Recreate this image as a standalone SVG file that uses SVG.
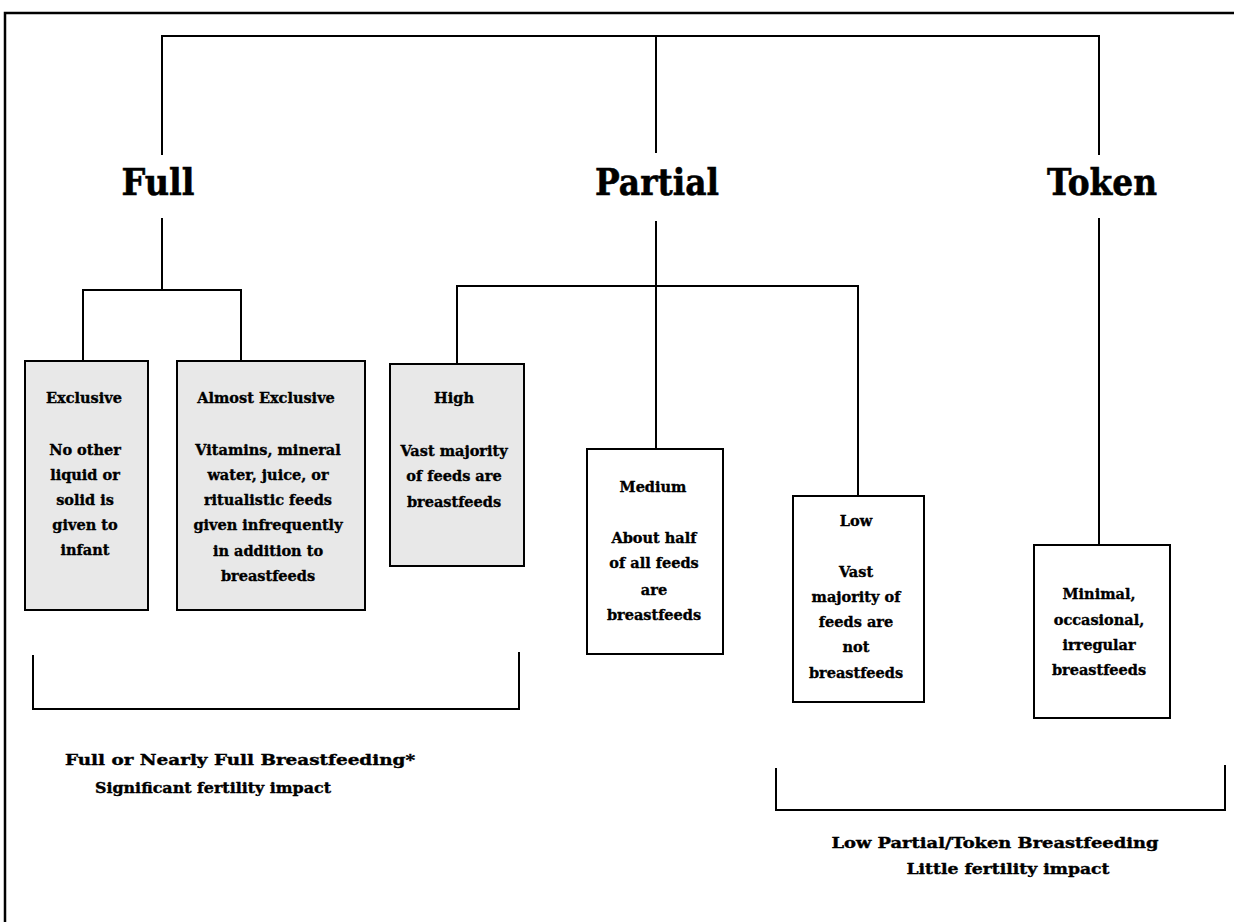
<svg xmlns="http://www.w3.org/2000/svg" width="1234" height="922" viewBox="0 0 1234 922">
<style>
.ln{stroke:#000;stroke-width:2;fill:none}
.box{stroke:#000;stroke-width:2}
.g{fill:#e8e8e8}
.w{fill:#fff}
.h{font-family:"DejaVu Serif","Liberation Serif",serif;font-weight:bold;font-size:37px;text-anchor:middle;fill:#000;stroke:#000;stroke-width:0.6}
.t{font-family:"DejaVu Serif","Liberation Serif",serif;font-weight:bold;font-size:14.5px;text-anchor:middle;fill:#000;stroke:#000;stroke-width:0.35}
.b{font-family:"DejaVu Serif","Liberation Serif",serif;font-weight:bold;font-size:15.5px;text-anchor:middle;fill:#000;stroke:#000;stroke-width:0.4}
</style>
<rect x="0" y="0" width="1234" height="922" fill="#fff"/>
<rect x="5" y="13" width="1300" height="1000" fill="none" stroke="#000" stroke-width="2.5"/>
<g id="connectors">
<path class="ln" d="M162,155 V36 H1099 V155"/>
<path class="ln" d="M656,36 V153"/>
<path class="ln" d="M162,218 V290"/>
<path class="ln" d="M83,361 V290 H241 V361"/>
<path class="ln" d="M656,221 V449"/>
<path class="ln" d="M457,364 V286 H858 V496"/>
<path class="ln" d="M1099,218 V545"/>
<path class="ln" d="M33,655 V709 H519 V652"/>
<path class="ln" d="M776,768 V810 H1225 V765"/>
</g>
<g id="full"><text class="h" x="158" y="195" textLength="73" lengthAdjust="spacingAndGlyphs">Full</text></g>
<g id="partial"><text class="h" x="657" y="195" textLength="124" lengthAdjust="spacingAndGlyphs">Partial</text></g>
<g id="token"><text class="h" x="1102" y="195" textLength="110" lengthAdjust="spacingAndGlyphs">Token</text></g>
<g id="exclusive">
<rect class="box g" x="25" y="361" width="123" height="249"/>
<text class="t" x="84" y="403">Exclusive</text>
<text class="t" x="85" y="455">No other</text>
<text class="t" x="85" y="480">liquid or</text>
<text class="t" x="85" y="505">solid is</text>
<text class="t" x="85" y="530">given to</text>
<text class="t" x="85" y="555">infant</text>
</g>
<g id="almost-exclusive">
<rect class="box g" x="177" y="361" width="188" height="249"/>
<text class="t" x="266" y="403">Almost Exclusive</text>
<text class="t" x="268" y="455">Vitamins, mineral</text>
<text class="t" x="268" y="480">water, juice, or</text>
<text class="t" x="268" y="505">ritualistic feeds</text>
<text class="t" x="268" y="530">given infrequently</text>
<text class="t" x="268" y="556">in addition to</text>
<text class="t" x="268" y="581">breastfeeds</text>
</g>
<g id="high">
<rect class="box g" x="390" y="364" width="134" height="202"/>
<text class="t" x="454" y="403">High</text>
<text class="t" x="454" y="456">Vast majority</text>
<text class="t" x="454" y="481">of feeds are</text>
<text class="t" x="454" y="507">breastfeeds</text>
</g>
<g id="medium">
<rect class="box w" x="587" y="449" width="136" height="205"/>
<text class="t" x="653" y="492">Medium</text>
<text class="t" x="654" y="543">About half</text>
<text class="t" x="654" y="568">of all feeds</text>
<text class="t" x="654" y="595">are</text>
<text class="t" x="654" y="620">breastfeeds</text>
</g>
<g id="low">
<rect class="box w" x="793" y="496" width="131" height="206"/>
<text class="t" x="856" y="526">Low</text>
<text class="t" x="856" y="577">Vast</text>
<text class="t" x="856" y="602">majority of</text>
<text class="t" x="856" y="627">feeds are</text>
<text class="t" x="856" y="652">not</text>
<text class="t" x="856" y="678">breastfeeds</text>
</g>
<g id="token-box">
<rect class="box w" x="1034" y="545" width="136" height="173"/>
<text class="t" x="1099" y="599">Minimal,</text>
<text class="t" x="1099" y="625">occasional,</text>
<text class="t" x="1099" y="650">irregular</text>
<text class="t" x="1099" y="675">breastfeeds</text>
</g>
<g id="full-group-label">
<text class="b" x="240" y="765" textLength="350" lengthAdjust="spacingAndGlyphs">Full or Nearly Full Breastfeeding*</text>
<text class="b" x="213" y="793" textLength="236" lengthAdjust="spacingAndGlyphs">Significant fertility impact</text>
</g>
<g id="low-group-label">
<text class="b" x="995" y="848" textLength="327" lengthAdjust="spacingAndGlyphs">Low Partial/Token Breastfeeding</text>
<text class="b" x="1008" y="874" textLength="203" lengthAdjust="spacingAndGlyphs">Little fertility impact</text>
</g>
</svg>
